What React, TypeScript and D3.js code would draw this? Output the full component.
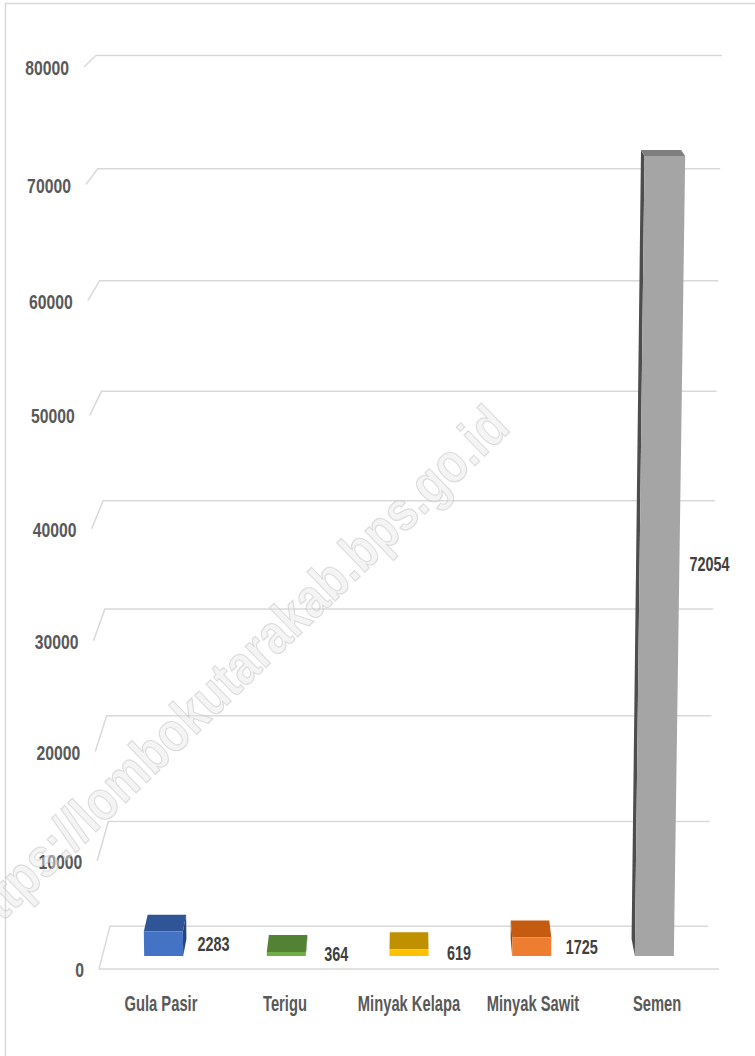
import React from "react";
import * as d3 from "d3";

const categories = ["Gula Pasir", "Terigu", "Minyak Kelapa", "Minyak Sawit", "Semen"];
const values = [2283, 364, 619, 1725, 72054];
const frontColors = ["#4472C4", "#70AD47", "#FFC000", "#ED7D31", "#A5A5A5"];
const topColors = ["#2F5597", "#548235", "#BF9000", "#C55A11", "#7F7F7F"];
const sideColors = ["#264478", "#43682B", "#997300", "#9E480E", "#4D4D4D"];
const tickValues = [0, 10000, 20000, 30000, 40000, 50000, 60000, 70000, 80000];
const watermark = "https://lombokutarakab.bps.go.id";

// 3D layout (world units) and camera
const W3 = 164.7;
const H3 = 238.8;
const D3 = 37.5;
const CX = 409;
const CY = 500;
const FOCAL = 3765;
const TILT = Math.atan(0.1972);
const Y0 = -124.6;
const Z0 = 1000;

const cosT = Math.cos(TILT);
const sinT = Math.sin(TILT);

function project(X: number, Y: number, Z: number): [number, number] {
  const xc = X - W3 / 2;
  const yc = Y0 + Y * cosT + Z * sinT;
  const zc = Z0 - Y * sinT + Z * cosT;
  return [CX + (FOCAL * xc) / zc, CY - (FOCAL * yc) / zc];
}

const xScale = d3.scaleBand<string>().domain(categories).range([0, W3]);
const yScale = d3.scaleLinear().domain([0, 80000]).range([0, H3]);

function poly(pts: [number, number, number][]) {
  return pts.map((p) => project(p[0], p[1], p[2]).join(",")).join(" ");
}

const tickFont = "'Liberation Sans', Arial, sans-serif";

export default function App() {
  const bw = xScale.bandwidth();
  const barW = bw * 0.318;
  const zf = D3 * 0.3;
  const zb = D3 * 0.7;

  const line = d3.line();

  return (
    <svg
      width={755}
      height={1056}
      style={{ position: "absolute", left: 0, top: 0, background: "#fff" }}
    >
      <rect x={5.5} y={3.5} width={800} height={1100} fill="#fff" stroke="#d9d9d9" strokeWidth={1.5} />

      {/* gridlines */}
      {tickValues.map((t) => {
        const y = yScale(t);
        const pts: [number, number][] = [project(0, y, 0), project(0, y, D3), project(W3, y, D3)];
        return (
          <path key={"g" + t} d={line(pts) || ""} fill="none" stroke="#d9d9d9" strokeWidth={1.5} />
        );
      })}
      {/* floor front edge */}
      <path
        d={line([project(0, 0, 0), project(W3, 0, 0)]) || ""}
        fill="none"
        stroke="#d9d9d9"
        strokeWidth={1.5}
      />

      {/* tick labels */}
      {tickValues.map((t) => {
        const [px, py] = project(0, yScale(t), 0);
        return (
          <text
            key={"t" + t}
            transform={`translate(${px - 15},${py + 8}) scale(0.75,1)`}
            textAnchor="end"
            fontFamily={tickFont}
            fontWeight="bold"
            fontSize={21}
            fill="#595959"
          >
            {t}
          </text>
        );
      })}

      {/* bars */}
      {categories.map((c, i) => {
        const v = yScale(values[i]);
        const x0 = (xScale(c) as number) + (bw - barW) / 2;
        const x1 = x0 + barW;
        const mid = (x0 + x1) / 2;
        let side: string | null = null;
        if (mid < W3 / 2 - 0.001) {
          side = poly([[x1, 0, zf], [x1, 0, zb], [x1, v, zb], [x1, v, zf]]);
        } else if (mid > W3 / 2 + 0.001) {
          side = poly([[x0, 0, zf], [x0, 0, zb], [x0, v, zb], [x0, v, zf]]);
        }
        const top = poly([[x0, v, zf], [x1, v, zf], [x1, v, zb], [x0, v, zb]]);
        const front = poly([[x0, 0, zf], [x1, 0, zf], [x1, v, zf], [x0, v, zf]]);
        return (
          <g key={"b" + c}>
            {side && <polygon points={side} fill={sideColors[i]} />}
            <polygon points={top} fill={topColors[i]} />
            <polygon points={front} fill={frontColors[i]} />
          </g>
        );
      })}

      {/* data labels */}
      {categories.map((c, i) => {
        const xm = (xScale(c) as number) + bw / 2;
        const [px, py] = project(xm, yScale(values[i]) / 2, zf);
        return (
          <text
            key={"l" + c}
            transform={`translate(${px + 50},${py + 7}) scale(0.72,1)`}
            textAnchor="middle"
            fontFamily={tickFont}
            fontWeight="bold"
            fontSize={20}
            fill="#404040"
          >
            {values[i]}
          </text>
        );
      })}

      {/* category labels */}
      {categories.map((c) => {
        const xm = (xScale(c) as number) + bw / 2;
        const [px, py] = project(xm, 0, 0);
        return (
          <text
            key={"c" + c}
            transform={`translate(${px},${py + 42}) scale(0.67,1)`}
            textAnchor="middle"
            fontFamily={tickFont}
            fontWeight="bold"
            fontSize={22}
            fill="#595959"
          >
            {c}
          </text>
        );
      })}

      {/* watermark */}
      <text
        transform="translate(512,430) rotate(-44) scale(0.835,1)"
        textAnchor="end"
        fontFamily={tickFont}
        fontWeight="bold"
        fontSize={56}
        fill="#e6e6e6"
        fillOpacity={0.45}
        stroke="#bfbfbf"
        strokeOpacity={0.5}
        strokeWidth={1.2}
      >
        {watermark}
      </text>
    </svg>
  );
}
